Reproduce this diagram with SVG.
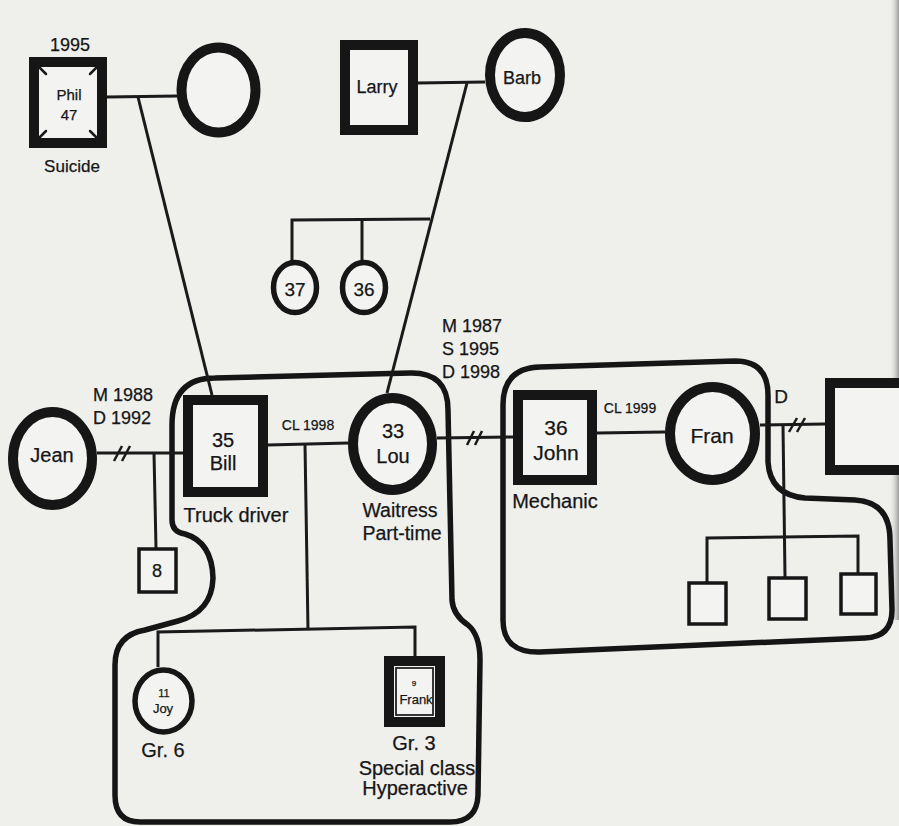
<svg xmlns="http://www.w3.org/2000/svg" width="899" height="826" viewBox="0 0 899 826">
<defs>
<style>
.bg{fill:#efefec}
.sq{fill:#f3f3f1;stroke:#161616;stroke-width:10}
.sqs{fill:#f3f3f1;stroke:#161616;stroke-width:3.5}
.ci{fill:#f3f3f1;stroke:#161616;stroke-width:10}
.cis{fill:#f3f3f1;stroke:#161616;stroke-width:5.5}
.ln{fill:none;stroke:#1a1a1a;stroke-width:3}
.hh{fill:none;stroke:#151515;stroke-width:5.5;stroke-linejoin:round}
.sl{stroke:#1a1a1a;stroke-width:2.5}
text{font-family:"Liberation Sans",Arial,sans-serif;fill:#161616;text-anchor:middle;stroke:#161616;stroke-width:0.25}
.t18{font-size:18px}
.t20{font-size:20px}
.l{text-anchor:start}
</style>
<linearGradient id="edge" x1="0" y1="0" x2="1" y2="0">
<stop offset="0" stop-color="#efefec" stop-opacity="0"/>
<stop offset="1" stop-color="#9a9a98"/>
</linearGradient>
</defs>
<rect class="bg" x="0" y="0" width="899" height="826"/>
<rect x="889" y="0" width="10" height="620" fill="url(#edge)"/>

<g id="households">
<path class="hh" d="M 172 425 Q 172 378 215 378 L 410 373 Q 448 372 448 410 L 452 600 Q 453 615 468 625 Q 480 635 480 660 L 478 795 Q 477 822 450 822 L 140 822 Q 115 822 115 795 L 115 665 Q 115 635 145 630 L 178 621 Q 212 612 213 578 Q 212 542 185 534 Q 172 532 172 520 Z"/>
<path class="hh" d="M 503 405 Q 503 368 540 367 L 735 361 Q 768 361 768 395 L 768 462 Q 770 495 805 498 L 855 500 Q 890 502 890 540 L 892 610 Q 892 637 865 638 L 540 652 Q 503 653 503 620 Z"/>
</g>

<g id="connectors">
<line class="ln" x1="107" y1="97" x2="178" y2="96"/>
<line class="ln" x1="138" y1="97" x2="212" y2="395"/>
<line class="ln" x1="418" y1="83" x2="485" y2="82"/>
<line class="ln" x1="467" y1="83" x2="387" y2="393"/>
<polyline class="ln" points="292,262 292,220 430,219"/>
<line class="ln" x1="362" y1="220" x2="362" y2="262"/>
<line class="ln" x1="97" y1="453" x2="183" y2="453"/>
<line class="sl" x1="114" y1="461" x2="122" y2="446"/>
<line class="sl" x1="122" y1="461" x2="130" y2="446"/>
<line class="ln" x1="154" y1="453" x2="156" y2="548"/>
<line class="ln" x1="268" y1="445" x2="348" y2="443"/>
<line class="ln" x1="305" y1="444" x2="308" y2="630"/>
<polyline class="ln" points="158,667 158,632 415,627 415,658"/>
<line class="ln" x1="437" y1="438" x2="513" y2="437"/>
<line class="sl" x1="467" y1="445" x2="474" y2="431"/>
<line class="sl" x1="475" y1="445" x2="482" y2="431"/>
<line class="ln" x1="597" y1="433" x2="665" y2="432"/>
<line class="ln" x1="760" y1="425" x2="825" y2="424"/>
<line class="sl" x1="789" y1="432" x2="797" y2="418"/>
<line class="sl" x1="797" y1="432" x2="805" y2="418"/>
<line class="ln" x1="783" y1="425" x2="785" y2="577"/>
<polyline class="ln" points="707,582 707,538 858,536 858,573"/>
</g>

<g id="phil">
<rect class="sq" x="34" y="62" width="68" height="81"/>
<g class="sl" stroke-width="4.5" stroke-linecap="round">
<line x1="40" y1="68" x2="46" y2="74"/>
<line x1="96" y1="68" x2="90" y2="74"/>
<line x1="40" y1="137" x2="46" y2="131"/>
<line x1="96" y1="137" x2="90" y2="131"/>
</g>
<text x="70" y="51" class="t18">1995</text>
<text x="69" y="100" font-size="15">Phil</text>
<text x="69" y="120" font-size="15">47</text>
<text x="72" y="172" font-size="17">Suicide</text>
</g>

<g id="phil-wife">
<ellipse class="ci" cx="218.5" cy="90" rx="37" ry="42.5"/>
</g>

<g id="larry">
<rect class="sq" x="345" y="45" width="68" height="85"/>
<text x="377" y="93" class="t18">Larry</text>
</g>

<g id="barb">
<ellipse class="ci" cx="525" cy="75" rx="35" ry="42"/>
<text x="522" y="84" class="t18">Barb</text>
</g>

<g id="sister37">
<ellipse class="cis" cx="295" cy="287.5" rx="21.5" ry="25"/>
<text x="295" y="296" font-size="19">37</text>
</g>

<g id="sister36">
<ellipse class="cis" cx="364" cy="287.5" rx="21.5" ry="25"/>
<text x="364" y="296" font-size="19">36</text>
</g>

<g id="jean">
<ellipse class="ci" cx="52.5" cy="458.5" rx="39.5" ry="46.5"/>
<text x="52" y="462" class="t20">Jean</text>
<text x="93" y="401" class="t18 l" font-size="19">M 1988</text>
<text x="93" y="424" class="t18 l" font-size="19">D 1992</text>
</g>

<g id="son8">
<rect class="sqs" x="139" y="549" width="37" height="43"/>
<text x="157" y="577" class="t18">8</text>
</g>

<g id="bill">
<rect class="sq" x="188" y="400" width="75" height="92" stroke-width="9"/>
<text x="223" y="447" class="t20">35</text>
<text x="223" y="470" class="t20">Bill</text>
<text x="236" y="522" class="t20">Truck driver</text>
<text x="308" y="430" font-size="14">CL 1998</text>
</g>

<g id="lou">
<ellipse class="ci" cx="392.5" cy="444" rx="39.5" ry="46"/>
<text x="393" y="438" class="t20">33</text>
<text x="393" y="463" class="t20">Lou</text>
<text x="400" y="517" font-size="19.5">Waitress</text>
<text x="402" y="540" font-size="19.5">Part-time</text>
<text x="442" y="332" class="t18 l" font-size="18.5">M 1987</text>
<text x="442" y="355" class="t18 l" font-size="18.5">S 1995</text>
<text x="442" y="378" class="t18 l" font-size="18.5">D 1998</text>
</g>

<g id="joy">
<ellipse class="cis" cx="163.5" cy="701" rx="28.5" ry="31" stroke-width="6"/>
<text x="164" y="697" font-size="11">11</text>
<text x="163" y="713" font-size="13">Joy</text>
<text x="163" y="757" class="t20">Gr. 6</text>
</g>

<g id="frank">
<rect class="sq" x="389" y="661" width="51" height="61" stroke-width="7"/>
<rect x="396" y="668" width="37" height="47" fill="none" stroke="#222" stroke-width="1.8"/>
<text x="414" y="686" font-size="8">9</text>
<text x="416" y="704" font-size="13">Frank</text>
<text x="414" y="750" class="t20">Gr. 3</text>
<text x="417" y="775" class="t20">Special class</text>
<text x="415" y="795" class="t20">Hyperactive</text>
</g>

<g id="john">
<rect class="sq" x="518" y="395" width="74" height="85"/>
<text x="556" y="435" font-size="21">36</text>
<text x="556" y="460" font-size="21">John</text>
<text x="555" y="508" class="t20">Mechanic</text>
<text x="630" y="413" font-size="14">CL 1999</text>
</g>

<g id="fran">
<ellipse class="ci" cx="712.5" cy="433.5" rx="42.5" ry="46.5"/>
<text x="712" y="443" font-size="21">Fran</text>
<text x="781" y="403" font-size="19">D</text>
</g>

<g id="fran-ex">
<rect class="sq" x="830" y="383" width="80" height="87"/>
</g>

<g id="child-a">
<rect class="sqs" x="689" y="583" width="37" height="41"/>
</g>
<g id="child-b">
<rect class="sqs" x="769" y="578" width="37" height="41"/>
</g>
<g id="child-c">
<rect class="sqs" x="841" y="574" width="35" height="40"/>
</g>
</svg>
